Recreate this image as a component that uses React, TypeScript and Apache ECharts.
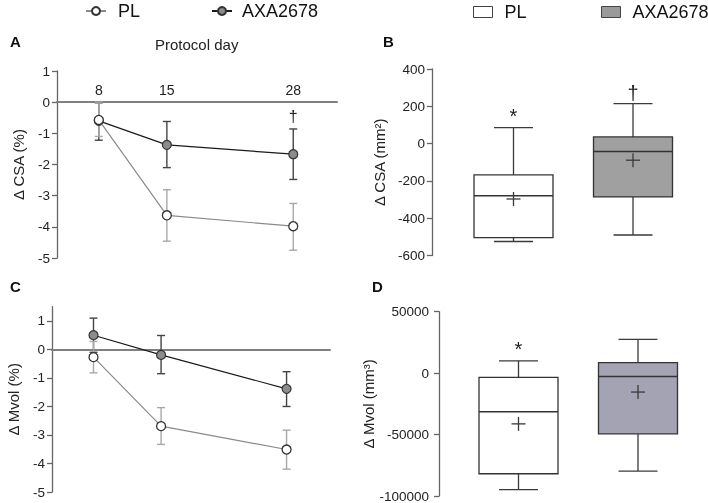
import React, { useEffect, useRef } from 'react';
import * as echarts from 'echarts';

// ---------- data ----------
const days = [8, 15, 28];
const dayLabels = ['8', '15', '28'];

// Panel A: Δ CSA (%)
const csaPlMean = [-0.57, -3.63, -3.98];
const csaPlLow = [-1.1, -4.46, -4.75];
const csaPlHigh = [0.0, -2.81, -3.25];
const csaAxaMean = [-0.6, -1.37, -1.67];
const csaAxaLow = [-1.22, -2.1, -2.48];
const csaAxaHigh = [-0.02, -0.62, -0.86];
const csaPctMarkDays = [28];
const csaPctMarkValues = [-0.45];
const csaPctMarkTexts = ['†'];

// Panel C: Δ Mvol (%)
const mvolPlMean = [-0.27, -2.69, -3.51];
const mvolPlLow = [-0.82, -3.33, -4.2];
const mvolPlHigh = [0.28, -2.04, -2.83];
const mvolAxaMean = [0.5, -0.19, -1.38];
const mvolAxaLow = [-0.1, -0.85, -2.0];
const mvolAxaHigh = [1.1, 0.49, -0.78];

const pctTicks = [1, 0, -1, -2, -3, -4, -5];

// Box panels: [min, q1, median, q3, max, mean]
const groups = ['PL', 'AXA2678'];
const csaBoxPl = [-525, -504, -280, -168, 86, -297];
const csaBoxAxa = [-490, -286, -42, 36, 214, -89];
const csaBoxMarkX = [0, 1];
const csaBoxMarkValues = [150, 272];
const csaBoxMarkTexts = ['*', '†'];

const mvolBoxPl = [-94800, -81900, -31400, -3500, 10000, -41300];
const mvolBoxAxa = [-79700, -49400, -2700, 8600, 27500, -15400];
const mvolBoxMarkX = [0];
const mvolBoxMarkValues = [19500];
const mvolBoxMarkTexts = ['*'];

const FONT = 'Liberation Sans, Arial, Helvetica, sans-serif';

// ---------- helpers ----------
const errRender = (color: string) => (params: any, api: any) => {
  const x = api.value(0);
  const lo = api.coord([x, api.value(1)]);
  const hi = api.coord([x, api.value(2)]);
  const w = 4;
  const st = { stroke: color, lineWidth: 1.4 };
  return {
    type: 'group',
    children: [
      { type: 'line', shape: { x1: lo[0], y1: lo[1], x2: hi[0], y2: hi[1] }, style: st },
      { type: 'line', shape: { x1: lo[0] - w, y1: lo[1], x2: lo[0] + w, y2: lo[1] }, style: st },
      { type: 'line', shape: { x1: hi[0] - w, y1: hi[1], x2: hi[0] + w, y2: hi[1] }, style: st },
    ],
  };
};

const boxRender = (fill: string) => (params: any, api: any) => {
  const x = api.value(0);
  const c = (v: number) => api.coord([x, v]);
  const pMin = c(api.value(1));
  const pQ1 = c(api.value(2));
  const pMed = c(api.value(3));
  const pQ3 = c(api.value(4));
  const pMax = c(api.value(5));
  const pMean = c(api.value(6));
  const cx = pMed[0];
  const hw = 39.5;
  const cap = 19.5;
  const pl = 7;
  const ls = { stroke: '#3a3a3a', lineWidth: 1.3 };
  return {
    type: 'group',
    children: [
      { type: 'line', shape: { x1: cx, y1: pMax[1], x2: cx, y2: pQ3[1] }, style: ls },
      { type: 'line', shape: { x1: cx - cap, y1: pMax[1], x2: cx + cap, y2: pMax[1] }, style: ls },
      { type: 'line', shape: { x1: cx, y1: pQ1[1], x2: cx, y2: pMin[1] }, style: ls },
      { type: 'line', shape: { x1: cx - cap, y1: pMin[1], x2: cx + cap, y2: pMin[1] }, style: ls },
      {
        type: 'rect',
        shape: { x: cx - hw, y: pQ3[1], width: 2 * hw, height: pQ1[1] - pQ3[1] },
        style: { fill, stroke: '#333', lineWidth: 1.3 },
      },
      { type: 'line', shape: { x1: cx - hw, y1: pMed[1], x2: cx + hw, y2: pMed[1] }, style: { stroke: '#333', lineWidth: 1.5 } },
      { type: 'line', shape: { x1: cx - pl, y1: pMean[1], x2: cx + pl, y2: pMean[1] }, style: ls },
      { type: 'line', shape: { x1: cx, y1: pMean[1] - pl, x2: cx, y2: pMean[1] + pl }, style: ls },
    ],
  };
};

const textRender = (texts: string[], size: number, dy = 0) => (params: any, api: any) => {
  const p = api.coord([api.value(0), api.value(1)]);
  return {
    type: 'text',
    x: p[0],
    y: p[1] + dy,
    style: {
      text: texts[params.dataIndex],
      fontSize: size,
      fontFamily: FONT,
      fill: '#222',
      align: 'center',
      verticalAlign: 'middle',
    },
  };
};

const pctYAxis = (grid: number, name: string, max: number) => ({
  type: 'value',
  gridIndex: grid,
  min: -5,
  max,
  name,
  nameLocation: 'middle',
  nameGap: 31,
  nameTextStyle: { fontSize: 15, color: '#222', fontFamily: FONT },
  axisLine: { show: true, onZero: false, lineStyle: { color: '#666', width: 1.3 } },
  axisTick: { show: true, length: 5, customValues: pctTicks, lineStyle: { color: '#666', width: 1.3 } },
  axisLabel: { fontSize: 13.5, color: '#222', margin: 7, fontFamily: FONT, customValues: pctTicks },
  splitLine: { show: false },
});

const dayXAxis = (grid: number) => ({
  type: 'value',
  gridIndex: grid,
  min: 3.7,
  max: 32.5,
  axisLine: { show: true, onZero: true, lineStyle: { color: '#808080', width: 2 } },
  axisTick: { show: false },
  axisLabel: { show: false },
  splitLine: { show: false },
});

const catXAxis = (grid: number) => ({
  type: 'category',
  gridIndex: grid,
  data: groups,
  show: false,
  boundaryGap: true,
});

const pair = (xs: number[], ys: number[]) => xs.map((x, i) => [x, ys[i]]);
const triple = (xs: number[], a: number[], b: number[]) => xs.map((x, i) => [x, a[i], b[i]]);
const noThousands = (v: number) => String(v);

const legendLine = (name: string, left: number, pad: number) => ({
  left,
  top: 2,
  padding: 0,
  itemWidth: 20,
  itemHeight: 10,
  selectedMode: false,
  data: [name],
  textStyle: { fontSize: 18, color: '#111', fontFamily: FONT, padding: [0, 0, 0, pad] },
});

const legendBox = (name: string, left: number, fill: string) => ({
  left,
  top: 3,
  padding: 0,
  itemWidth: 19,
  itemHeight: 11,
  selectedMode: false,
  formatter: (n: string) => n.split('_')[0],
  data: [{ name, icon: 'rect', itemStyle: { color: fill, borderColor: '#444', borderWidth: 1 } }],
  textStyle: { fontSize: 18, color: '#111', fontFamily: FONT, padding: [0, 0, 0, 7] },
});

export default function App() {
  const ref = useRef<HTMLDivElement>(null);

  useEffect(() => {
    document.body.style.margin = '0';
    const chart = echarts.init(ref.current!, null, { renderer: 'svg' });

    const plItem = { color: '#ffffff', borderColor: '#333', borderWidth: 1.3 };
    const axaItem = { color: '#8c8c8c', borderColor: '#333', borderWidth: 1.2 };
    const plLine = { color: '#8a8a8a', width: 1.2 };
    const axaLine = { color: '#1a1a1a', width: 1.2 };

    const option: any = {
      animation: false,
      textStyle: { fontFamily: FONT },
      legend: [
        legendLine('PL', 85, 7),
        legendLine('AXA2678', 211, 5),
        legendBox('PL_box', 473, '#ffffff'),
        legendBox('AXA2678_box', 601, '#9a9a9a'),
      ],
      grid: [
        { left: 57, top: 71, width: 280, height: 187 },
        { left: 453.75, top: 69, width: 239, height: 186.5 },
        { left: 52, top: 306.7, width: 278, height: 185.3 },
        { left: 458.75, top: 311.7, width: 239, height: 185 },
      ],
      xAxis: [dayXAxis(0), catXAxis(1), dayXAxis(2), catXAxis(3)],
      yAxis: [
        { ...pctYAxis(0, 'Δ CSA (%)', 1) },
        {
          type: 'value',
          gridIndex: 1,
          min: -600,
          max: 400,
          interval: 200,
          offset: 21.75,
          name: 'Δ CSA (mm²)',
          nameLocation: 'middle',
          nameGap: 45,
          nameTextStyle: { fontSize: 15, color: '#222', fontFamily: FONT },
          axisLine: { show: true, lineStyle: { color: '#666', width: 1.3 } },
          axisTick: { show: true, length: 5, lineStyle: { color: '#666', width: 1.3 } },
          axisLabel: { fontSize: 13.5, color: '#222', margin: 7, fontFamily: FONT, formatter: noThousands },
          splitLine: { show: false },
        },
        { ...pctYAxis(2, 'Δ Mvol (%)', 1.5) },
        {
          type: 'value',
          gridIndex: 3,
          min: -100000,
          max: 50000,
          interval: 50000,
          offset: 19.75,
          name: 'Δ Mvol (mm³)',
          nameLocation: 'middle',
          nameGap: 62,
          nameTextStyle: { fontSize: 15, color: '#222', fontFamily: FONT },
          axisLine: { show: true, lineStyle: { color: '#666', width: 1.3 } },
          axisTick: { show: true, length: 5, lineStyle: { color: '#666', width: 1.3 } },
          axisLabel: { fontSize: 13.5, color: '#222', margin: 10, fontFamily: FONT, formatter: noThousands },
          splitLine: { show: false },
        },
      ],
      graphic: [
        { type: 'text', left: 10, top: 34, style: { text: 'A', fontSize: 15, fontWeight: 'bold', fill: '#111', fontFamily: FONT } },
        { type: 'text', left: 383, top: 34, style: { text: 'B', fontSize: 15, fontWeight: 'bold', fill: '#111', fontFamily: FONT } },
        { type: 'text', left: 10, top: 279, style: { text: 'C', fontSize: 15, fontWeight: 'bold', fill: '#111', fontFamily: FONT } },
        { type: 'text', left: 372, top: 279, style: { text: 'D', fontSize: 15, fontWeight: 'bold', fill: '#111', fontFamily: FONT } },
        { type: 'text', left: 155, top: 37, style: { text: 'Protocol day', fontSize: 15, fill: '#222', fontFamily: FONT } },
      ],
      series: [
        // Panel A
        { type: 'custom', name: 'day labels', xAxisIndex: 0, yAxisIndex: 0, z: 5, data: pair(days, days.map(() => 0)), renderItem: textRender(dayLabels, 14, -12) },
        { type: 'custom', name: 'AXA err A', xAxisIndex: 0, yAxisIndex: 0, z: 1, data: triple(days, csaAxaLow, csaAxaHigh), renderItem: errRender('#444') },
        { type: 'custom', name: 'PL err A', xAxisIndex: 0, yAxisIndex: 0, z: 1, data: triple(days, csaPlLow, csaPlHigh), renderItem: errRender('#a8a8a8') },
        { type: 'line', name: 'AXA2678', xAxisIndex: 0, yAxisIndex: 0, z: 3, data: pair(days, csaAxaMean), symbol: 'circle', symbolSize: 9, itemStyle: axaItem, lineStyle: axaLine },
        { type: 'line', name: 'PL', xAxisIndex: 0, yAxisIndex: 0, z: 4, data: pair(days, csaPlMean), symbol: 'circle', symbolSize: 9, itemStyle: plItem, lineStyle: plLine },
        { type: 'custom', name: 'mark A', xAxisIndex: 0, yAxisIndex: 0, z: 5, data: pair(csaPctMarkDays, csaPctMarkValues), renderItem: textRender(csaPctMarkTexts, 16) },
        // Panel C
        { type: 'custom', name: 'AXA err C', xAxisIndex: 2, yAxisIndex: 2, z: 1, data: triple(days, mvolAxaLow, mvolAxaHigh), renderItem: errRender('#444') },
        { type: 'custom', name: 'PL err C', xAxisIndex: 2, yAxisIndex: 2, z: 1, data: triple(days, mvolPlLow, mvolPlHigh), renderItem: errRender('#a8a8a8') },
        { type: 'line', name: 'AXA2678', xAxisIndex: 2, yAxisIndex: 2, z: 3, data: pair(days, mvolAxaMean), symbol: 'circle', symbolSize: 9, itemStyle: axaItem, lineStyle: axaLine },
        { type: 'line', name: 'PL', xAxisIndex: 2, yAxisIndex: 2, z: 4, data: pair(days, mvolPlMean), symbol: 'circle', symbolSize: 9, itemStyle: plItem, lineStyle: plLine },
        // Panel B
        { type: 'custom', name: 'PL_box', xAxisIndex: 1, yAxisIndex: 1, itemStyle: { color: '#ffffff', borderColor: '#444' }, data: [[0, ...csaBoxPl]], renderItem: boxRender('#ffffff') },
        { type: 'custom', name: 'AXA2678_box', xAxisIndex: 1, yAxisIndex: 1, itemStyle: { color: '#9a9a9a', borderColor: '#444' }, data: [[1, ...csaBoxAxa]], renderItem: boxRender('#a0a0a0') },
        { type: 'custom', name: 'mark B', xAxisIndex: 1, yAxisIndex: 1, z: 5, data: pair(csaBoxMarkX, csaBoxMarkValues), renderItem: textRender(csaBoxMarkTexts, 20) },
        // Panel D
        { type: 'custom', name: 'PL_boxD', xAxisIndex: 3, yAxisIndex: 3, data: [[0, ...mvolBoxPl]], renderItem: boxRender('#ffffff') },
        { type: 'custom', name: 'AXA2678_boxD', xAxisIndex: 3, yAxisIndex: 3, data: [[1, ...mvolBoxAxa]], renderItem: boxRender('#a4a3b4') },
        { type: 'custom', name: 'mark D', xAxisIndex: 3, yAxisIndex: 3, z: 5, data: pair(mvolBoxMarkX, mvolBoxMarkValues), renderItem: textRender(mvolBoxMarkTexts, 20) },
      ],
    };

    chart.setOption(option);
    return () => chart.dispose();
  }, []);

  return <div ref={ref} style={{ position: 'fixed', left: 0, top: 0, width: 708, height: 503 }} />;
}
